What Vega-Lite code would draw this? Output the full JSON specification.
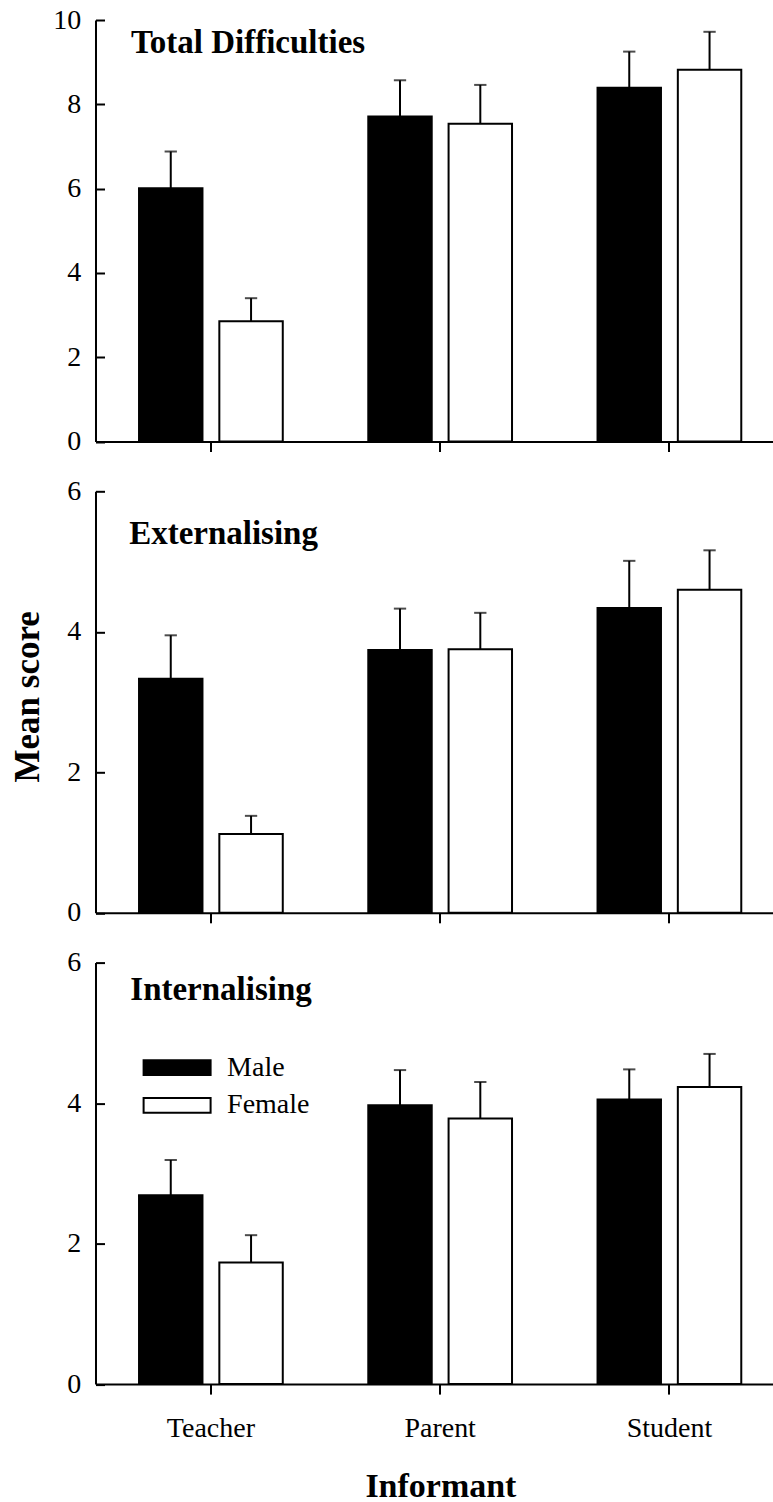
{
  "$schema": "https://vega.github.io/schema/vega-lite/v6.json",
  "autosize": {"type": "pad"},
  "padding": {"left": 9.5, "top": 6, "right": 0, "bottom": 0},
  "background": "white",
  "datasets": {
    "scores": [
      {"measure": "Total Difficulties", "informant": "Teacher", "sex": "Male", "mean": 6.01, "upper": 6.88},
      {"measure": "Total Difficulties", "informant": "Teacher", "sex": "Female", "mean": 2.85, "upper": 3.40},
      {"measure": "Total Difficulties", "informant": "Parent", "sex": "Male", "mean": 7.71, "upper": 8.57},
      {"measure": "Total Difficulties", "informant": "Parent", "sex": "Female", "mean": 7.54, "upper": 8.46},
      {"measure": "Total Difficulties", "informant": "Student", "sex": "Male", "mean": 8.39, "upper": 9.25},
      {"measure": "Total Difficulties", "informant": "Student", "sex": "Female", "mean": 8.82, "upper": 9.72},
      {"measure": "Externalising", "informant": "Teacher", "sex": "Male", "mean": 3.33, "upper": 3.95},
      {"measure": "Externalising", "informant": "Teacher", "sex": "Female", "mean": 1.12, "upper": 1.38},
      {"measure": "Externalising", "informant": "Parent", "sex": "Male", "mean": 3.74, "upper": 4.33},
      {"measure": "Externalising", "informant": "Parent", "sex": "Female", "mean": 3.75, "upper": 4.27},
      {"measure": "Externalising", "informant": "Student", "sex": "Male", "mean": 4.34, "upper": 5.01},
      {"measure": "Externalising", "informant": "Student", "sex": "Female", "mean": 4.60, "upper": 5.16},
      {"measure": "Internalising", "informant": "Teacher", "sex": "Male", "mean": 2.69, "upper": 3.19},
      {"measure": "Internalising", "informant": "Teacher", "sex": "Female", "mean": 1.73, "upper": 2.12},
      {"measure": "Internalising", "informant": "Parent", "sex": "Male", "mean": 3.97, "upper": 4.47},
      {"measure": "Internalising", "informant": "Parent", "sex": "Female", "mean": 3.78, "upper": 4.30},
      {"measure": "Internalising", "informant": "Student", "sex": "Male", "mean": 4.05, "upper": 4.48},
      {"measure": "Internalising", "informant": "Student", "sex": "Female", "mean": 4.23, "upper": 4.70}
    ]
  },
  "config": {
    "font": "Liberation Serif",
    "view": {"stroke": null},
    "axis": {
      "grid": false,
      "domainColor": "black",
      "domainWidth": 2,
      "tickColor": "black",
      "tickWidth": 2,
      "labelColor": "black",
      "titleColor": "black",
      "labelFont": "Liberation Serif",
      "titleFont": "Liberation Serif",
      "labelFontSize": 28,
      "labelFontWeight": "normal"
    },
    "title": {"font": "Liberation Serif", "fontSize": 33, "fontWeight": "bold", "color": "black", "anchor": "start", "frame": "group", "baseline": "alphabetic"}
  },
  "spacing": 49.3,
  "bounds": "flush",
  "resolve": {"scale": {"x": "independent", "y": "independent", "fill": "independent"}, "legend": {"fill": "independent"}},
  "vconcat": [
    {
      "width": 677.3,
      "height": 421.5,
      "title": {"text": "Total Difficulties", "offset": -53.9, "dx": 35.4},
      "data": {"name": "scores"},
      "transform": [{"filter": "datum.measure === 'Total Difficulties'"}],
      "encoding": {
        "x": {"field": "informant", "type": "nominal", "sort": ["Teacher", "Parent", "Student"],
              "scale": {"paddingInner": 0.373, "paddingOuter": 0.1637, "align": 0.58},
              "axis": {"labels": false, "title": null, "tickSize": 10}},
        "xOffset": {"field": "sex", "type": "nominal", "sort": ["Male", "Female"], "scale": {"paddingInner": 0.21, "paddingOuter": 0}}
      },
      "layer": [
        {"mark": {"type": "bar", "stroke": "black", "strokeWidth": 2},
         "encoding": {
           "y": {"field": "mean", "type": "quantitative", "scale": {"domain": [0, 10], "nice": false},
                 "axis": {"values": [0, 2, 4, 6, 8, 10], "format": "d", "title": null, "tickSize": -9, "labelPadding": 23.7}},
           "fill": {"field": "sex", "type": "nominal", "scale": {"domain": ["Male", "Female"], "range": ["black", "white"]}, "legend": null}
         }},
        {"mark": {"type": "rule", "color": "black", "strokeWidth": 2},
         "encoding": {"y": {"field": "mean", "type": "quantitative"}, "y2": {"field": "upper"}}},
        {"mark": {"type": "tick", "color": "black", "size": 12.3, "thickness": 2},
         "encoding": {"y": {"field": "upper", "type": "quantitative"}}}
      ]
    },
    {
      "width": 677.3,
      "height": 421.5,
      "title": {"text": "Externalising", "offset": -73.8, "dx": 33.7},
      "data": {"name": "scores"},
      "transform": [{"filter": "datum.measure === 'Externalising'"}],
      "encoding": {
        "x": {"field": "informant", "type": "nominal", "sort": ["Teacher", "Parent", "Student"],
              "scale": {"paddingInner": 0.373, "paddingOuter": 0.1637, "align": 0.58},
              "axis": {"labels": false, "title": null, "tickSize": 10}},
        "xOffset": {"field": "sex", "type": "nominal", "sort": ["Male", "Female"], "scale": {"paddingInner": 0.21, "paddingOuter": 0}}
      },
      "layer": [
        {"mark": {"type": "bar", "stroke": "black", "strokeWidth": 2},
         "encoding": {
           "y": {"field": "mean", "type": "quantitative", "scale": {"domain": [0, 6], "nice": false},
                 "axis": {"values": [0, 2, 4, 6], "format": "d", "title": "Mean score", "tickSize": -9, "labelPadding": 23.7,
                          "titleFontSize": 35, "titleFontWeight": "bold", "titleBaseline": "alphabetic",
                          "titleX": -57.1, "titleY": 205, "titleAngle": -90}},
           "fill": {"field": "sex", "type": "nominal", "scale": {"domain": ["Male", "Female"], "range": ["black", "white"]}, "legend": null}
         }},
        {"mark": {"type": "rule", "color": "black", "strokeWidth": 2},
         "encoding": {"y": {"field": "mean", "type": "quantitative"}, "y2": {"field": "upper"}}},
        {"mark": {"type": "tick", "color": "black", "size": 12.3, "thickness": 2},
         "encoding": {"y": {"field": "upper", "type": "quantitative"}}}
      ]
    },
    {
      "width": 677.3,
      "height": 421.5,
      "title": {"text": "Internalising", "offset": -58.3, "dx": 34.8},
      "data": {"name": "scores"},
      "transform": [{"filter": "datum.measure === 'Internalising'"}],
      "encoding": {
        "x": {"field": "informant", "type": "nominal", "sort": ["Teacher", "Parent", "Student"],
              "scale": {"paddingInner": 0.373, "paddingOuter": 0.1637, "align": 0.58},
              "axis": {"labelAngle": 0, "tickSize": 10, "labelPadding": 20, "title": "Informant",
                       "titleFontSize": 34, "titleFontWeight": "bold", "titleBaseline": "alphabetic",
                       "titleX": 344.9, "titleY": 112}},
        "xOffset": {"field": "sex", "type": "nominal", "sort": ["Male", "Female"], "scale": {"paddingInner": 0.21, "paddingOuter": 0}}
      },
      "layer": [
        {"mark": {"type": "bar", "stroke": "black", "strokeWidth": 2},
         "encoding": {
           "y": {"field": "mean", "type": "quantitative", "scale": {"domain": [0, 6], "nice": false},
                 "axis": {"values": [0, 2, 4, 6], "format": "d", "title": null, "tickSize": -9, "labelPadding": 23.7}},
           "fill": {"field": "sex", "type": "nominal", "scale": {"domain": ["Male", "Female"], "range": ["black", "white"]},
                    "legend": {"orient": "none", "legendX": 63.6, "legendY": 87.1, "title": null,
                               "symbolType": "M-2,-0.44H2V0.44H-2Z", "symbolSize": 1122,
                               "symbolStrokeColor": "black", "symbolStrokeWidth": 2,
                               "labelFont": "Liberation Serif", "labelFontSize": 28, "labelColor": "black",
                               "labelOffset": 32, "rowPadding": 5.6, "padding": 0}}
         }},
        {"mark": {"type": "rule", "color": "black", "strokeWidth": 2},
         "encoding": {"y": {"field": "mean", "type": "quantitative"}, "y2": {"field": "upper"}}},
        {"mark": {"type": "tick", "color": "black", "size": 12.3, "thickness": 2},
         "encoding": {"y": {"field": "upper", "type": "quantitative"}}}
      ]
    }
  ]
}
